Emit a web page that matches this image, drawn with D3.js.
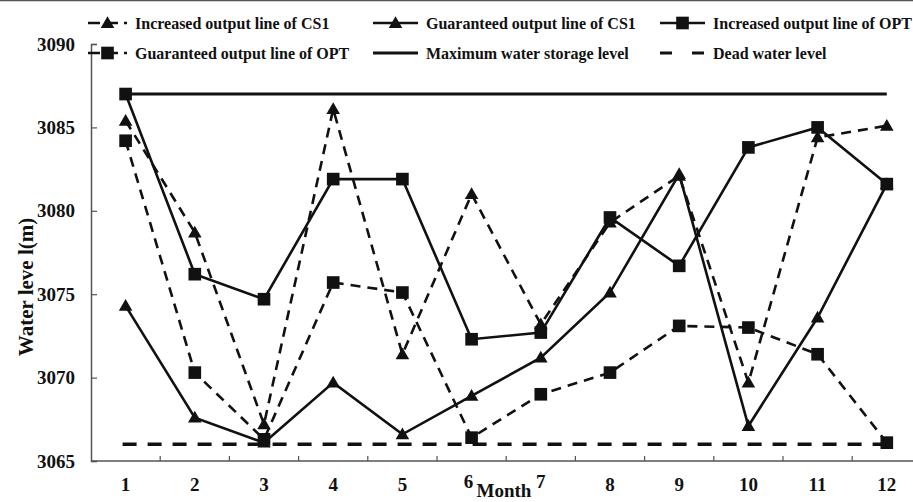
<!DOCTYPE html>
<html>
<head>
<meta charset="utf-8">
<script src="https://cdn.jsdelivr.net/npm/d3@7"></script>
<style>
  html, body { margin: 0; padding: 0; background: #fff; }
  svg { display: block; }
  text { font-family: "Liberation Serif", "Times New Roman", serif; font-weight: bold; fill: #111; }
</style>
</head>
<body>
<svg id="chart" width="913" height="502"></svg>
<script>
// Months on the horizontal axis
const months = [1, 2, 3, 4, 5, 6, 7, 8, 9, 10, 11, 12];

// Water level (m) per month for each operating line
const increasedCS1  = [3085.4, 3078.7, 3067.2, 3086.1, 3071.4, 3081.0, 3073.2, 3079.3, 3082.1, 3069.7, 3084.4, 3085.1];
const guaranteedCS1 = [3074.3, 3067.6, 3066.1, 3069.7, 3066.6, 3068.9, 3071.2, 3075.1, 3082.2, 3067.1, 3073.6, 3081.6];
const increasedOPT  = [3087.0, 3076.2, 3074.7, 3081.9, 3081.9, 3072.3, 3072.7, 3079.6, 3076.7, 3083.8, 3085.0, 3081.6];
const guaranteedOPT = [3084.2, 3070.3, 3066.3, 3075.7, 3075.1, 3066.4, 3069.0, 3070.3, 3073.1, 3073.0, 3071.4, 3066.1];

// Reference levels
const maxStorageLevel = 3087;
const deadWaterLevel  = 3066;

// Axis ticks
const yTicks = [3065, 3070, 3075, 3080, 3085, 3090];

const svg = d3.select("#chart");

// Frame line along the top edge
svg.append("line")
  .attr("x1", 0).attr("x2", 913).attr("y1", 0.5).attr("y2", 0.5)
  .attr("stroke", "#555").attr("stroke-width", 1.5);

const left = 91, catW = 69.2;
const x = d3.scaleBand().domain(months).range([left, left + catW * 12]).padding(0);
const cx = m => x(m) + x.bandwidth() / 2;
const y = d3.scaleLinear().domain([3065, 3090]).range([461, 44]);

const plot = svg.append("g");

// Y axis
const yAxis = d3.axisLeft(y).tickValues(yTicks).tickSize(-6).tickPadding(16).tickFormat(d3.format("d"));
const gy = plot.append("g").attr("transform", `translate(${left},0)`).call(yAxis);
gy.select(".domain").attr("stroke", "#555").attr("stroke-width", 1.5);
gy.selectAll(".tick line").attr("stroke", "#555").attr("stroke-width", 1.2);
gy.selectAll(".tick text").style("font-size", "19px").attr("fill", "#111");

// X axis line with category-boundary ticks
plot.append("line")
  .attr("x1", left).attr("x2", 913).attr("y1", y(3065)).attr("y2", y(3065))
  .attr("stroke", "#555").attr("stroke-width", 1.5);
plot.append("g").selectAll("line")
  .data(months.slice(1).concat([13]))
  .join("line")
  .attr("x1", (d, i) => left + catW * (i + 1))
  .attr("x2", (d, i) => left + catW * (i + 1))
  .attr("y1", y(3065)).attr("y2", y(3065) - 5)
  .attr("stroke", "#555").attr("stroke-width", 1.2);

// Month labels
plot.append("g").selectAll("text")
  .data(months)
  .join("text")
  .attr("x", d => cx(d) + (d === 6 ? -3 : 0))
  .attr("y", d => (d === 6 || d === 7) ? 488 : 491)
  .attr("text-anchor", "middle")
  .style("font-size", "19px")
  .text(d => d);

// Axis titles
svg.append("text")
  .attr("x", 504).attr("y", 497)
  .attr("text-anchor", "middle")
  .style("font-size", "19px")
  .text("Month");

svg.append("text")
  .attr("transform", "translate(33,287) rotate(-90)")
  .attr("text-anchor", "middle")
  .style("font-size", "21px")
  .text("Water leve l(m)");

// Reference lines
plot.append("line")
  .attr("x1", cx(1)).attr("x2", cx(12))
  .attr("y1", y(maxStorageLevel)).attr("y2", y(maxStorageLevel))
  .attr("stroke", "#111").attr("stroke-width", 3);
plot.append("line")
  .attr("x1", cx(1) - 3).attr("x2", cx(12))
  .attr("y1", y(deadWaterLevel)).attr("y2", y(deadWaterLevel))
  .attr("stroke", "#111").attr("stroke-width", 3.5)
  .attr("stroke-dasharray", "14,11");

const series = [
  { name: "Increased output line of CS1",  values: increasedCS1,  dash: "10,7", marker: "triangle" },
  { name: "Guaranteed output line of CS1", values: guaranteedCS1, dash: null,   marker: "triangle" },
  { name: "Increased output line of OPT",  values: increasedOPT,  dash: null,   marker: "square" },
  { name: "Guaranteed output line of OPT", values: guaranteedOPT, dash: "10,7", marker: "square" }
];

const line = d3.line().x((d, i) => cx(months[i])).y(d => y(d));
const triSym = d3.symbol().type(d3.symbolTriangle).size(80);
const sqSym = d3.symbol().type(d3.symbolSquare).size(160);

function drawMarker(g, type, px, py) {
  if (type === "square") {
    g.append("path").attr("d", sqSym()).attr("transform", `translate(${px},${py})`).attr("fill", "#111");
  } else {
    g.append("path").attr("d", triSym()).attr("transform", `translate(${px},${py + 1})`).attr("fill", "#111");
  }
}

series.forEach(s => {
  const g = plot.append("g");
  g.append("path")
    .attr("d", line(s.values))
    .attr("fill", "none")
    .attr("stroke", "#111")
    .attr("stroke-width", 2.6)
    .attr("stroke-dasharray", s.dash);
  s.values.forEach((v, i) => drawMarker(g, s.marker, cx(months[i]), y(v)));
});

// Legend
const legendItems = [
  { name: "Increased output line of CS1",  dash: "12,6", marker: "triangle", col: 0, row: 0 },
  { name: "Guaranteed output line of CS1", dash: null,   marker: "triangle", col: 1, row: 0 },
  { name: "Increased output line of OPT",  dash: null,   marker: "square",   col: 2, row: 0 },
  { name: "Guaranteed output line of OPT", dash: "12,6", marker: "square",   col: 0, row: 1 },
  { name: "Maximum water storage level",   dash: null,   marker: null,       col: 1, row: 1 },
  { name: "Dead water level",              dash: "12,20", marker: null,      col: 2, row: 1 }
];
const colX = [88, 373, 660];
const sampleW = [39, 45, 45];
const rowY = [23, 53];

const legend = svg.append("g");
legendItems.forEach(it => {
  const x0 = colX[it.col], w = sampleW[it.col], yy = rowY[it.row];
  legend.append("line")
    .attr("x1", x0).attr("x2", x0 + w).attr("y1", yy).attr("y2", yy)
    .attr("stroke", "#111").attr("stroke-width", it.marker ? 2.6 : 3)
    .attr("stroke-dasharray", it.dash);
  if (it.marker) drawMarker(legend, it.marker, x0 + w / 2, yy);
  legend.append("text")
    .attr("x", x0 + w + 8).attr("y", yy)
    .attr("dy", "0.35em")
    .style("font-size", "16px")
    .text(it.name);
});
</script>
</body>
</html>
